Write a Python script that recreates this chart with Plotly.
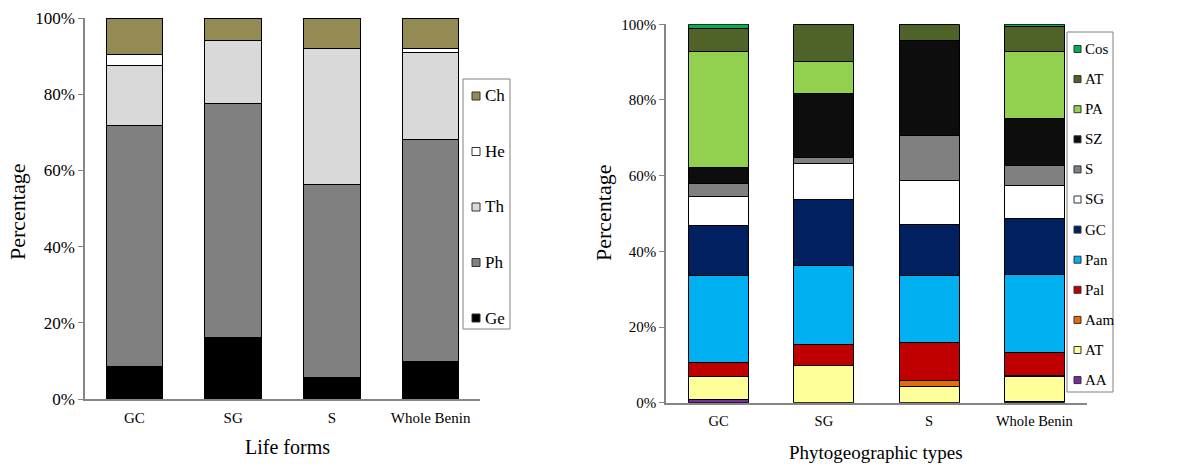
import plotly.graph_objects as go

# ---- Left chart: life forms ----
regions = ["GC", "SG", "S", "Whole Benin"]
life_names = ["Ge", "Ph", "Th", "He", "Ch"]
life_colors = ["#000000", "#808080", "#d9d9d9", "#ffffff", "#948a54"]
Ge = [8.6, 16.2, 5.7, 9.9]
Ph = [63.3, 61.4, 50.7, 58.3]
Th = [15.7, 16.4, 35.6, 22.8]
He = [2.7, 0.0, 0.0, 1.1]
Ch = [9.7, 6.0, 8.0, 7.9]
life_values = [Ge, Ph, Th, He, Ch]

# ---- Right chart: phytogeographic types ----
phyto_names = ["AA", "AT", "Aam", "Pal", "Pan", "GC", "SG", "S", "SZ", "PA", "AT", "Cos"]
phyto_colors = ["#7030a0", "#ffff99", "#e46c0a", "#c00000", "#00b0f0", "#002060",
                "#ffffff", "#808080", "#0d0d0d", "#92d050", "#4f6228", "#00b050"]
AA = [0.9, 0.0, 0.0, 0.4]
AT_ = [6.0, 9.8, 4.4, 6.5]
Aam = [0.0, 0.0, 1.4, 0.3]
Pal = [3.7, 5.6, 10.2, 6.1]
Pan = [22.9, 20.9, 17.7, 20.7]
GCt = [13.4, 17.4, 13.5, 14.6]
SGt = [7.7, 9.5, 11.5, 8.8]
St = [3.4, 1.5, 11.9, 5.3]
SZ = [4.2, 16.9, 25.1, 12.4]
PA = [30.6, 8.6, 0.0, 17.7]
AT2 = [6.0, 9.8, 4.3, 6.6]
Cos = [1.2, 0.0, 0.0, 0.6]
phyto_values = [AA, AT_, Aam, Pal, Pan, GCt, SGt, St, SZ, PA, AT2, Cos]

FONT = "Liberation Serif"
W, H = 1203, 464


def px(x):
    return x / W


def py(y):
    return (H - y) / H


fig = go.Figure()

for name, col, vals in zip(life_names, life_colors, life_values):
    fig.add_trace(go.Bar(
        x=regions, y=vals, name=name, marker=dict(color=col, line=dict(color="#000000", width=1)),
        xaxis="x", yaxis="y", showlegend=False, hoverinfo="x+y+name"))

for name, col, vals in zip(phyto_names, phyto_colors, phyto_values):
    fig.add_trace(go.Bar(
        x=regions, y=vals, name=name, marker=dict(color=col, line=dict(color="#000000", width=1)),
        xaxis="x2", yaxis="y2", showlegend=False, hoverinfo="x+y+name"))

axis_common = dict(showline=True, linecolor="#868686", linewidth=1.5, showgrid=False,
                   zeroline=False, fixedrange=True, automargin=False)
pct_vals = [0, 20, 40, 60, 80, 100]
pct_text = ["0%", "20%", "40%", "60%", "80%", "100%"]

shapes = []
annotations = []


def add_legend(names, colors, box, first_y, step, sym_x, sym_size, text_x, font_size):
    x0, y0, x1, y1 = box
    shapes.append(dict(type="rect", xref="paper", yref="paper",
                       x0=px(x0), x1=px(x1), y0=py(y1), y1=py(y0),
                       line=dict(color="#808080", width=1), fillcolor="white", layer="above"))
    # legend lists series from top of stack to bottom
    for k, (nm, col) in enumerate(zip(reversed(names), reversed(colors))):
        cy = first_y + k * step
        shapes.append(dict(type="rect", xref="paper", yref="paper",
                           x0=px(sym_x), x1=px(sym_x + sym_size),
                           y0=py(cy + sym_size / 2), y1=py(cy - sym_size / 2),
                           line=dict(color="#333333", width=1), fillcolor=col, layer="above"))
        annotations.append(dict(text=nm, xref="paper", yref="paper", x=px(text_x), y=py(cy),
                                xanchor="left", yanchor="middle", showarrow=False,
                                font=dict(size=font_size, family=FONT, color="#000000")))


add_legend(life_names, life_colors, (463, 79, 510, 329), 96, 55.5, 472, 8, 483, 17)
add_legend(phyto_names, phyto_colors, (1067, 32, 1113, 392), 49, 30.1, 1074, 7, 1083, 15)

title_common = dict(xref="paper", yref="paper", showarrow=False, xanchor="center", yanchor="middle")
annotations += [
    dict(text="Percentage", x=px(17), y=py(212), textangle=-90,
         font=dict(size=22, family=FONT), **title_common),
    dict(text="Life forms", x=px(287), y=py(447),
         font=dict(size=20, family=FONT), **title_common),
    dict(text="Percentage", x=px(603), y=py(213), textangle=-90,
         font=dict(size=22, family=FONT), **title_common),
    dict(text="Phytogeographic types", x=px(876), y=py(452),
         font=dict(size=19, family=FONT), **title_common),
]

fig.update_layout(
    template="none",
    width=W, height=H,
    margin=dict(l=0, r=0, t=0, b=0, pad=0),
    paper_bgcolor="white", plot_bgcolor="white",
    barmode="stack", bargap=0.43,
    font=dict(family=FONT, color="#000000"),
    showlegend=False,
    xaxis=dict(domain=[px(85), px(480)], anchor="y", tickfont=dict(size=15, family=FONT),
               ticks="", ticklabelstandoff=4, **axis_common),
    yaxis=dict(domain=[py(399), py(18)], anchor="x", range=[0, 100],
               tickvals=pct_vals, ticktext=pct_text,
               tickfont=dict(size=17, family=FONT), ticks="outside", ticklen=5, tickcolor="#868686",
               **axis_common),
    xaxis2=dict(domain=[px(666), px(1087)], anchor="y2", tickfont=dict(size=14.5, family=FONT),
                ticks="", ticklabelstandoff=4, **axis_common),
    yaxis2=dict(domain=[py(402.7), py(24.3)], anchor="x2", range=[0, 100],
                tickvals=pct_vals, ticktext=pct_text,
                tickfont=dict(size=15, family=FONT), ticks="outside", ticklen=5, tickcolor="#868686",
                **axis_common),
    shapes=shapes,
    annotations=annotations,
)

fig.write_html("out.html", config={"displayModeBar": False},
               post_script="document.body.style.margin='0px';document.body.style.padding='0px';")
